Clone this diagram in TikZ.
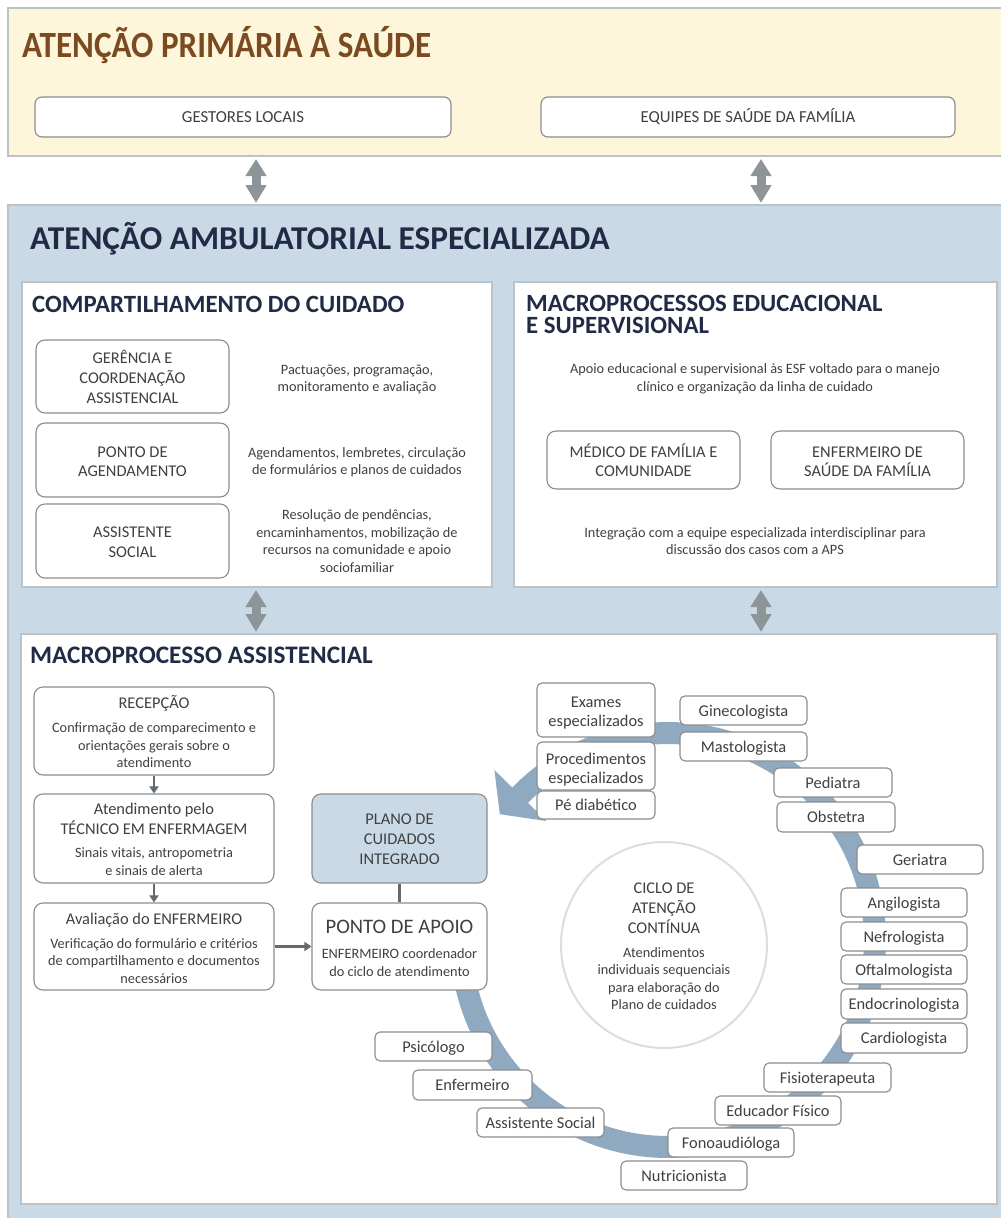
\documentclass[tikz,border=0pt]{standalone}
\usepackage{fontspec}
\usepackage{graphicx}
\setmainfont{Carlito}
\usetikzlibrary{arrows.meta}
\definecolor{yellowbg}{HTML}{FDF6DB}
\definecolor{bluebg}{HTML}{C9DAE6}
\definecolor{panelline}{HTML}{BCC3C8}
\definecolor{boxline}{HTML}{8C8C8C}
\definecolor{txt}{HTML}{404040}
\definecolor{navy}{HTML}{222B45}
\definecolor{brownt}{HTML}{7B4A21}
\definecolor{arrgray}{HTML}{8D9598}
\definecolor{bandc}{HTML}{8FAAC0}
\definecolor{darkline}{HTML}{5F6A72}
\definecolor{circgray}{HTML}{DDDDDD}
\newcommand{\fsz}[2]{\fontsize{#1pt}{#2pt}\selectfont}
\newcommand{\mybox}[8][]{\node[#2,minimum width={(#5-(#3))*1pt},minimum height={(#6-(#4))*1pt},#1] (#7) at ({(#3+#5)/2},{(#4+#6)/2}) {#8};}
\newcommand{\tl}[5][]{\node[tline,#1] (#2) at (#3,#4) {#5};}
\begin{document}
\begin{tikzpicture}[x=1pt,y=-1pt,
 panel/.style={draw=panelline,line width=1.5pt,inner sep=0pt},
 wpanel/.style={draw=panelline,fill=white,line width=1.5pt,inner sep=0pt},
 rbox/.style={draw=boxline,fill=white,rounded corners=9pt,line width=1.1pt,inner sep=0pt,text=txt,font=\fsz{16.4}{20},text height=12.6pt,text depth=1.6pt},
 sbox/.style={rbox,rounded corners=5pt},
 tline/.style={anchor=base,inner sep=0pt,outer sep=0pt,text=txt,font=\fsz{14.3}{17.5}},
 bigl/.style={tline,font=\fsz{16.4}{20}},
 ttl/.style={anchor=base west,inner sep=0pt,text=navy,font=\bfseries\fsz{24.8}{28}},
 dbl/.style={draw=arrgray,line width=9pt,{Triangle[width=20pt,length=17pt]}-{Triangle[width=20pt,length=18pt]}},
 flow/.style={draw=darkline,line width=2.5pt,-{Triangle[width=9pt,length=7pt]}}
]
\useasboundingbox (0,0) rectangle (1001,1218);
% panels
\mybox[fill=yellowbg]{panel}{8}{8}{1012}{156}{aps}{}
\mybox[fill=bluebg]{panel}{8}{205}{1012}{1232}{aae}{}
\node[anchor=base west,inner sep=0pt,text=brownt] (apst) at (22,57) {\scalebox{0.895}[1]{\bfseries\fsz{37}{40}ATENÇÃO PRIMÁRIA À SAÚDE}};
\mybox[font=\fsz{16.8}{20},rounded corners=7pt]{rbox}{35}{97}{451}{137}{gest}{GESTORES LOCAIS}
\mybox[font=\fsz{16.8}{20},rounded corners=7pt]{rbox}{541}{97}{955}{137}{esf}{EQUIPES DE SAÚDE DA FAMÍLIA}
\node[ttl,font=\bfseries\fsz{33.3}{36}] (aaet) at (30,249) {ATENÇÃO AMBULATORIAL ESPECIALIZADA};
% double arrows
\coordinate (a1t) at (256,159); \coordinate (a1b) at (256,203);
\coordinate (a2t) at (761,159); \coordinate (a2b) at (761,203);
\coordinate (a3t) at (256,590); \coordinate (a3b) at (256,632);
\coordinate (a4t) at (761,590); \coordinate (a4b) at (761,632);
\draw[dbl] (a1t) -- (a1b);
\draw[dbl] (a2t) -- (a2b);
\draw[dbl] (a3t) -- (a3b);
\draw[dbl] (a4t) -- (a4b);
% sub panels
\mybox{wpanel}{22}{282}{492}{587}{comp}{}
\mybox{wpanel}{514}{282}{997}{587}{edup}{}
\mybox{wpanel}{21}{634}{997}{1204}{mac}{}
% compartilhamento
\node[ttl] (compt) at (32,312) {COMPARTILHAMENTO DO CUIDADO};
\mybox{rbox}{36}{340}{229}{413}{ger}{}
\mybox{rbox}{36}{423}{229}{497}{pag}{}
\mybox{rbox}{36}{504}{229}{578}{asc}{}
\tl[bigl]{g1}{132.5}{363}{GERÊNCIA E}
\tl[bigl]{g2}{132.5}{383}{COORDENAÇÃO}
\tl[bigl]{g3}{132.5}{403}{ASSISTENCIAL}
\tl[bigl]{p1}{132.5}{457}{PONTO DE}
\tl[bigl]{p2}{132.5}{476}{AGENDAMENTO}
\tl[bigl]{s1}{132.5}{537}{ASSISTENTE}
\tl[bigl]{s2}{132.5}{557}{SOCIAL}
\tl{d1}{357}{374}{Pactuações, programação,}
\tl{d2}{357}{391}{monitoramento e avaliação}
\tl{d3}{357}{457}{Agendamentos, lembretes, circulação}
\tl{d4}{357}{474}{de formulários e planos de cuidados}
\tl{d5}{357}{519}{Resolução de pendências,}
\tl{d6}{357}{537}{encaminhamentos, mobilização de}
\tl{d7}{357}{554}{recursos na comunidade e apoio}
\tl{d8}{357}{572}{sociofamiliar}
% educacional
\node[ttl,anchor=north west,align=left,font=\bfseries\fsz{24.8}{22}] (edut) at (526,295) {MACROPROCESSOS EDUCACIONAL\\E SUPERVISIONAL};
\tl{e1}{755}{373}{Apoio educacional e supervisional às ESF voltado para o manejo}
\tl{e2}{755}{391}{clínico e organização da linha de cuidado}
\mybox{rbox}{547}{431}{740}{489}{mfc}{}
\mybox{rbox}{771}{431}{964}{489}{esfb}{}
\tl[bigl]{m1}{643.5}{457}{MÉDICO DE FAMÍLIA E}
\tl[bigl]{m2}{643.5}{476}{COMUNIDADE}
\tl[bigl]{n1}{867.5}{457}{ENFERMEIRO DE}
\tl[bigl]{n2}{867.5}{476}{SAÚDE DA FAMÍLIA}
\tl{e3}{755}{537}{Integração com a equipe especializada interdisciplinar para}
\tl{e4}{755}{554}{discussão dos casos com a APS}
% macroprocesso assistencial
\node[ttl,font=\bfseries\fsz{25.2}{28}] (mact) at (30,663) {MACROPROCESSO ASSISTENCIAL};
% band
\begin{scope}[shift={(668,940)},y=1pt]
\fill[bandc] (178:196) arc[start angle=178,end angle=495.7,radius=196pt] -- (495.7:218) arc[start angle=495.7,end angle=178,radius=218pt] -- cycle;
\fill[bandc] (495.6:170) -- (503.2:210) -- (495.6:243) -- cycle;
\end{scope}
\node[circle,draw=circgray,line width=2pt,minimum size=206pt,inner sep=0pt] (cyc) at (664,945) {};
\tl[bigl]{c1}{664}{893}{CICLO DE}
\tl[bigl]{c2}{664}{913}{ATENÇÃO}
\tl[bigl]{c3}{664}{933}{CONTÍNUA}
\tl{c4}{664}{957}{Atendimentos}
\tl{c5}{664}{974}{individuais sequenciais}
\tl{c6}{664}{992}{para elaboração do}
\tl{c7}{664}{1009}{Plano de cuidados}
% left flow
\mybox{rbox}{34}{687}{274}{775}{rec}{}
\mybox{rbox}{34}{794}{274}{883}{tec}{}
\mybox{rbox}{34}{903}{274}{990}{ava}{}
\mybox[fill=bluebg]{rbox}{312}{794}{487}{883}{plano}{}
\mybox{rbox}{312}{903}{487}{990}{pto}{}
\tl[bigl]{r1}{154}{708}{RECEPÇÃO}
\tl{r2}{154}{732}{Confirmação de comparecimento e}
\tl{r3}{154}{750}{orientações gerais sobre o}
\tl{r4}{154}{767}{atendimento}
\tl[bigl]{t1}{154}{814}{Atendimento pelo}
\tl[bigl]{t2}{154}{834}{TÉCNICO EM ENFERMAGEM}
\tl{t3}{154}{857}{Sinais vitais, antropometria}
\tl{t4}{154}{875}{e sinais de alerta}
\tl[bigl]{v1}{154}{924}{Avaliação do ENFERMEIRO}
\tl{v2}{154}{948}{Verificação do formulário e critérios}
\tl{v3}{154}{965}{de compartilhamento e documentos}
\tl{v4}{154}{983}{necessários}
\tl[bigl]{pl1}{399.5}{824}{PLANO DE}
\tl[bigl]{pl2}{399.5}{844}{CUIDADOS}
\tl[bigl]{pl3}{399.5}{864}{INTEGRADO}
\tl[bigl,font=\fsz{20.6}{24}]{pa1}{399.5}{933}{PONTO DE APOIO}
\tl{pa2}{399.5}{958}{ENFERMEIRO coordenador}
\tl{pa3}{399.5}{976}{do ciclo de atendimento}
\draw[flow] (rec.south) -- (tec.north);
\draw[flow] (tec.south) -- (ava.north);
\draw[flow] (ava.east) -- (pto.west);
\draw[draw=darkline,line width=3pt] (plano.south) -- (pto.north);
% specialties
\mybox{sbox}{537}{683}{655}{737}{exa}{}
\tl[bigl]{x1}{596}{707}{Exames}
\tl[bigl]{x2}{596}{726}{especializados}
\mybox{sbox}{537}{742}{655}{790}{proc}{}
\tl[bigl]{y1}{596}{764}{Procedimentos}
\tl[bigl]{y2}{596}{783}{especializados}
\mybox{sbox}{537}{791}{655}{819}{pe}{Pé diabético}
\mybox{sbox}{680}{696}{807}{725}{gin}{Ginecologista}
\mybox{sbox}{680}{732}{807}{761}{mas}{Mastologista}
\mybox{sbox}{774}{768}{892}{797}{ped}{Pediatra}
\mybox{sbox}{777}{802}{895}{832}{obs}{Obstetra}
\mybox{sbox}{857}{845}{983}{874}{ger2}{Geriatra}
\mybox{sbox}{841}{888}{967}{917}{ang}{Angilogista}
\mybox{sbox}{841}{922}{967}{951}{nef}{Nefrologista}
\mybox{sbox}{841}{955}{967}{984}{oft}{Oftalmologista}
\mybox{sbox}{841}{989}{967}{1019}{endo}{Endocrinologista}
\mybox{sbox}{841}{1023}{967}{1053}{card}{Cardiologista}
\mybox{sbox}{764}{1063}{891}{1092}{fis}{Fisioterapeuta}
\mybox{sbox}{715}{1096}{841}{1125}{edf}{Educador Físico}
\mybox{sbox}{668}{1128}{794}{1157}{fon}{Fonoaudióloga}
\mybox{sbox}{621}{1161}{747}{1190}{nut}{Nutricionista}
\mybox{sbox}{477}{1108}{604}{1137}{ass}{Assistente Social}
\mybox{sbox}{413}{1070}{532}{1100}{enf}{Enfermeiro}
\mybox{sbox}{375}{1032}{492}{1061}{psi}{Psicólogo}
\end{tikzpicture}
\end{document}
